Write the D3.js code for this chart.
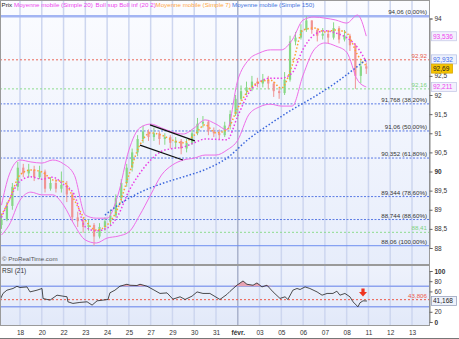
<!DOCTYPE html>
<html>
<head>
<meta charset="utf-8">
<script src="https://cdn.jsdelivr.net/npm/d3@7"></script>
<style>
body { margin: 0; background: #fff; }
svg text { font-family: "Liberation Sans", Arial, sans-serif; }
</style>
</head>
<body>
<script>
// x axis: one grid line per labelled session
var dayLabels = ["18","20","22","23","24","25","27","29","30","31","févr.","03","05","06","07","08","11","12","13"];
var monthIndex = 10;

// candles, every quarter session
var candleT = d3.range(68).map(function(k) { return -0.85 + k * 0.25; });
var priceOpen0 = 88.6;
var priceClose = [88.75,89.1,89.6,90.1,89.95,90.05,89.85,90.0,89.55,89.7,89.55,89.65,89.4,88.8,88.7,88.55,88.6,88.3,88.55,88.7,
  88.85,89.3,89.7,90.1,90.5,90.85,91.05,90.9,91.0,90.85,90.9,90.75,90.8,90.6,90.75,91.0,91.25,91.3,91.05,91.0,
  90.95,91.2,91.5,91.9,92.1,92.2,92.35,92.3,92.4,92.3,92.1,92.05,92.4,93.4,93.5,93.7,93.95,93.7,93.55,93.6,
  93.5,93.75,93.45,93.55,93.3,92.5,92.75,92.69];
var priceHigh = [88.9,89.2,89.7,90.25,90.2,90.2,90.15,90.15,90.05,89.85,89.8,90.0,89.75,89.45,88.95,88.8,88.75,88.65,88.65,88.8,
  89.0,89.4,89.8,90.2,90.6,90.95,91.2,91.1,91.15,91.05,91.0,90.95,90.9,90.85,90.85,91.1,91.4,91.45,91.35,91.15,
  91.1,91.3,91.6,92.0,92.25,92.35,92.5,92.45,92.55,92.5,92.35,92.2,92.6,93.55,93.65,93.85,94.06,93.95,93.75,93.75,
  93.7,93.9,93.8,93.7,93.6,93.35,92.9,92.85];
var priceLow = [88.5,88.7,89.0,89.5,89.85,89.85,89.75,89.8,89.45,89.5,89.45,89.45,89.2,88.7,88.55,88.4,88.45,88.06,88.25,88.45,
  88.6,88.8,89.2,89.6,90.0,90.4,90.75,90.8,90.8,90.7,90.7,90.6,90.6,90.45,90.5,90.7,90.95,91.15,90.95,90.9,
  90.85,90.9,91.1,91.45,91.85,92.0,92.1,92.2,92.2,92.15,91.95,91.9,92.0,92.35,93.3,93.45,93.65,93.6,93.4,93.45,
  93.35,93.45,93.35,93.4,93.15,92.16,92.3,92.55];

// indicators, every half session
var indT = [-0.85,-0.5,0,0.5,1,1.5,2,2.5,3,3.5,4,4.5,5,5.5,6,6.5,7,7.5,8,8.5,9,9.5,10,10.5,11,11.5,12,12.5,13,13.5,14,14.5,15,15.5,15.9];
var bollSup = [89.12,89.91,90.30,90.25,90.22,90.30,90.20,89.9,88.86,88.78,88.78,89.39,90.56,91.14,91.24,91.14,91.03,90.98,91.14,91.35,
  91.24,91.09,92.39,92.92,93.10,93.18,93.18,93.44,93.96,94.04,94.01,93.96,93.88,94.09,93.54];
var bollInf = [88.34,88.60,89.25,89.46,89.39,89.39,89.12,88.60,88.21,88.13,88.26,88.31,88.42,88.86,89.39,89.91,90.17,90.30,90.35,90.43,
  90.43,90.56,90.82,91.48,91.69,91.76,91.71,91.71,92.52,93.18,93.36,93.28,93.12,92.39,92.21];
var ma20 = [88.80,89.25,89.75,89.86,89.80,89.85,89.66,89.39,88.55,88.45,88.52,88.85,89.49,89.95,90.30,90.53,90.60,90.64,90.75,90.85,
  90.84,90.83,91.45,92.05,92.34,92.44,92.44,92.58,93.20,93.57,93.68,93.62,93.50,93.24,92.87];
var ma7 = [88.86,89.25,89.91,90.04,89.99,89.78,89.73,89.25,88.73,88.47,88.60,89.05,89.91,90.69,91.01,90.95,90.82,90.75,90.95,91.22,
  91.01,91.09,91.66,92.13,92.34,92.39,92.18,92.78,93.70,93.75,93.65,93.70,93.62,93.05,92.76];
var ma150T = [3.9,4.5,5.5,6.5,7.5,8.5,9.5,10.5,11.5,12.5,13.5,14.5,15.5,15.9];
var ma150 = [88.86,89.12,89.45,89.68,89.86,90.05,90.35,90.85,91.25,91.62,91.95,92.32,92.75,92.93];

// drawn objects
var fibLevels = [94.06, 91.768, 91.06, 90.352, 89.344, 88.744, 88.06];
var fibPct = ["0,00%","38,20%","50,00%","61,80%","78,60%","88,60%","100,00%"];
var redLevel = 92.92;
var greenLevels = [92.16, 88.41];
var channelTop = [[5.97, 91.22], [8.03, 90.80]];
var channelBottom = [[5.51, 90.69], [7.48, 90.30]];
var lastBollSup = 93.536, lastMa150 = 92.932, lastClose = 92.69, lastBollInf = 92.211;
var priceTicks = [88,88.5,89,89.5,90,90.5,91,91.5,92,92.5,93,93.5,94];

// RSI (21)
var rsiT = [-0.92,-0.78,-0.6,-0.32,-0.14,0,0.32,0.46,0.78,1.01,1.06,1.38,1.7,1.97,2.16,2.2,2.43,2.75,3.08,3.31,
  3.54,3.81,4.04,4.13,4.36,4.59,4.91,5.05,5.37,5.51,5.83,6.11,6.43,6.75,7.02,7.35,7.58,7.9,8.13,8.4,
  8.72,9.18,9.5,9.64,9.96,10.24,10.42,10.7,10.88,11.11,11.34,11.62,11.94,12.17,12.3,12.53,12.72,12.86,13.09,13.31,
  13.64,13.87,14.1,14.37,14.55,14.69,14.92,15.15,15.29,15.52,15.61,15.75,15.93];
var rsiV = [42.9,56,62.4,65.7,70,67.6,68.8,59,62.4,65.7,46,42.9,52.6,50.7,49.4,39.6,36.4,38.4,39.6,33.1,
  41.5,42.9,44.2,57.2,62.4,70.2,74,72.1,71.5,74,70.2,63.7,56,57.1,44.8,49.4,44.2,50.7,59,56,
  56,44.2,54,60,72.1,80.5,74,72.1,76.6,68.8,72.1,59,46.2,49.4,44.2,62.4,65.7,63.7,68.8,65.7,
  59,52.6,56,56,60.4,52.6,56,49.4,39.6,29.8,37.6,41.5,41.168];
var rsiBands = [70, 30];
var rsiLevel = 43.806;
var rsiArrow = [15.75, 58];
var rsiTicks = [0,20,40,60,80,100];

function fr(v) { return String(v).replace(".", ","); }

var svg = d3.select("body").append("svg").attr("width", 459).attr("height", 339);
var defs = svg.append("defs");
var gm = defs.append("linearGradient").attr("id", "bgMain").attr("x1", 0).attr("y1", 0).attr("x2", 0).attr("y2", 1);
gm.append("stop").attr("offset", "0%").attr("stop-color", "#fbfcff");
gm.append("stop").attr("offset", "100%").attr("stop-color", "#e7edfb");
var gr = defs.append("linearGradient").attr("id", "bgRsi").attr("x1", 0).attr("y1", 0).attr("x2", 0).attr("y2", 1);
gr.append("stop").attr("offset", "0%").attr("stop-color", "#eef2fc");
gr.append("stop").attr("offset", "100%").attr("stop-color", "#e2e9f9");
defs.append("clipPath").attr("id", "clipMain").append("rect").attr("x", 1).attr("y", 1).attr("width", 428).attr("height", 263);
defs.append("clipPath").attr("id", "clipRsi").append("rect").attr("x", 1).attr("y", 266).attr("width", 428).attr("height", 59);

var x = d3.scaleLinear().domain([0, 18]).range([20, 412]);
var y = d3.scaleLinear().domain([88, 94]).range([248, 18.5]);
var yr = d3.scaleLinear().domain([0, 100]).range([322, 271]);

// panels
svg.append("rect").attr("x", 0.5).attr("y", 0.5).attr("width", 429).attr("height", 264)
  .attr("fill", "url(#bgMain)").attr("stroke", "#9a9a9a");
svg.append("rect").attr("x", 0.5).attr("y", 265.5).attr("width", 429).attr("height", 60)
  .attr("fill", "url(#bgRsi)").attr("stroke", "#9a9a9a");

// vertical grid
d3.range(dayLabels.length).forEach(function(i) {
  [[1, 264], [266, 325]].forEach(function(r) {
    svg.append("line").attr("x1", x(i)).attr("x2", x(i)).attr("y1", r[0]).attr("y2", r[1])
      .attr("stroke", i === monthIndex ? "#a9b2cc" : "#cdd6ef").attr("stroke-width", 1.5);
  });
});

var main = svg.append("g").attr("clip-path", "url(#clipMain)");

// horizontal levels
fibLevels.forEach(function(v, i) {
  var solid = (i === 0 || i === fibLevels.length - 1);
  main.append("line").attr("x1", 0).attr("x2", 429).attr("y1", y(v)).attr("y2", y(v))
    .attr("stroke", i === 0 ? "#a3b5f3" : (solid ? "#6e8ef0" : "#5a7ae4"))
    .attr("stroke-width", i === 0 ? 2.5 : 1)
    .attr("stroke-dasharray", solid ? null : "2,1.5");
});
main.append("line").attr("x1", 0).attr("x2", 429).attr("y1", y(redLevel)).attr("y2", y(redLevel))
  .attr("stroke", "#ea6a5a").attr("stroke-dasharray", "2,2");
greenLevels.forEach(function(v) {
  main.append("line").attr("x1", 0).attr("x2", 429).attr("y1", y(v)).attr("y2", y(v))
    .attr("stroke", "#8edc8e").attr("stroke-dasharray", "2,2");
});

// candles
var candles = candleT.map(function(t, k) {
  return {t: t, o: k ? priceClose[k - 1] : priceOpen0, h: priceHigh[k], l: priceLow[k], c: priceClose[k]};
});
function candleColor(d) { return d.c >= d.o ? "#86d886" : "#f09494"; }
main.selectAll(".wick").data(candles).enter().append("line")
  .attr("x1", function(d) { return x(d.t); }).attr("x2", function(d) { return x(d.t); })
  .attr("y1", function(d) { return y(d.h); }).attr("y2", function(d) { return y(d.l); })
  .attr("stroke", candleColor);
main.selectAll(".body").data(candles).enter().append("rect")
  .attr("x", function(d) { return x(d.t) - 1.1; }).attr("width", 2.2)
  .attr("y", function(d) { return y(Math.max(d.o, d.c)); })
  .attr("height", function(d) { return Math.max(1, Math.abs(y(d.o) - y(d.c))); })
  .attr("fill", candleColor);

// indicator lines
function curve(ts, vs, sc) {
  return d3.line().x(function(d) { return x(d[0]); }).y(function(d) { return sc(d[1]); })
    .curve(d3.curveMonotoneX)(ts.map(function(t, i) { return [t, vs[i]]; }));
}
main.append("path").attr("d", curve(indT, bollSup, y)).attr("fill", "none").attr("stroke", "#ee6ee8").attr("stroke-width", 1);
main.append("path").attr("d", curve(indT, bollInf, y)).attr("fill", "none").attr("stroke", "#ee6ee8").attr("stroke-width", 1);
main.append("path").attr("d", curve(indT, ma20, y)).attr("fill", "none").attr("stroke", "#ea3ee6")
  .attr("stroke-width", 1.5).attr("stroke-dasharray", "1.5,2");
main.append("path").attr("d", curve(indT, ma7, y)).attr("fill", "none").attr("stroke", "#ffa030")
  .attr("stroke-width", 1.5).attr("stroke-dasharray", "1.5,2");
main.append("path").attr("d", curve(ma150T, ma150, y)).attr("fill", "none").attr("stroke", "#3a66dc")
  .attr("stroke-width", 1.5).attr("stroke-dasharray", "1.5,2");

// channel
[channelTop, channelBottom].forEach(function(seg) {
  main.append("line").attr("x1", x(seg[0][0])).attr("y1", y(seg[0][1]))
    .attr("x2", x(seg[1][0])).attr("y2", y(seg[1][1]))
    .attr("stroke", "#111").attr("stroke-width", 1.2);
});

// level labels
fibLevels.forEach(function(v, i) {
  svg.append("text").attr("x", 427).attr("y", y(v) - 2).attr("text-anchor", "end")
    .attr("font-size", 6.2).attr("fill", "#333").text(fr(v) + " (" + fibPct[i] + ")");
});
svg.append("text").attr("x", 427).attr("y", y(redLevel) - 2).attr("text-anchor", "end")
  .attr("font-size", 6.2).attr("fill", "#e8594a").text(fr(redLevel));
greenLevels.forEach(function(v) {
  svg.append("text").attr("x", 427).attr("y", y(v) - 2).attr("text-anchor", "end")
    .attr("font-size", 6.2).attr("fill", "#7cd27c").text(fr(v));
});

// legend
var legend = [["Prix", "#222", 1.5], ["Moyenne mobile (Simple 20)", "#ee44ee", 14],
  ["Boll sup Boll inf (20 2)", "#ee44ee", 95.5], ["Moyenne mobile (Simple 7)", "#ffa640", 155.5],
  ["Moyenne mobile (Simple 150)", "#4272dc", 232]];
legend.forEach(function(l) {
  svg.append("text").attr("x", l[2]).attr("y", 7).attr("font-size", 6.2).attr("fill", l[1]).text(l[0]);
});
svg.append("text").attr("x", 2).attr("y", 261).attr("font-size", 6.2).attr("fill", "#555").text("© ProRealTime.com");

// value boxes hide the axis ticks under them
var priceBoxes = [lastBollSup, lastMa150, lastClose, lastBollInf];
function hidden(v, boxes, sc) {
  return boxes.some(function(b) { return Math.abs(sc(b) - sc(v)) < 7; });
}

// price axis
var ya = svg.append("g").attr("transform", "translate(429.5,0)")
  .call(d3.axisRight(y).tickValues(priceTicks.filter(function(v) { return !hidden(v, priceBoxes, y); }))
    .tickSize(3).tickPadding(2).tickFormat(fr));
ya.select(".domain").attr("stroke", "#888");
ya.selectAll(".tick line").attr("stroke", "#666");
ya.selectAll(".tick text").attr("font-size", 6.5).attr("fill", "#333")
  .attr("font-weight", function(d) { return d === 90 ? "bold" : null; })
  .attr("font-family", "Liberation Sans, Arial, sans-serif");

function valueBox(v, yy, col, bg, border, w) {
  svg.append("rect").attr("x", 431.5).attr("y", yy - 4.5).attr("width", w).attr("height", 9)
    .attr("fill", bg).attr("stroke", border).attr("stroke-width", 0.8);
  svg.append("text").attr("x", 433).attr("y", yy + 2.3).attr("font-size", 6.5).attr("fill", col).text(fr(v));
}
valueBox(lastBollSup, y(lastBollSup), "#ee44ee", "#f3f1fd", "#c7cbe8", 25);
valueBox(lastMa150, y(lastMa150), "#3f6ee6", "#eef2fd", "#b9c4e8", 25);
valueBox(lastClose, y(lastClose), "#222", "#f6c400", "#d9a800", 21);
valueBox(lastBollInf, y(lastBollInf), "#ee44ee", "#f3f1fd", "#c7cbe8", 25);

// RSI panel
var rsiG = svg.append("g").attr("clip-path", "url(#clipRsi)");
rsiBands.forEach(function(v) {
  rsiG.append("line").attr("x1", 0).attr("x2", 429).attr("y1", yr(v)).attr("y2", yr(v))
    .attr("stroke", "#8ea3ef").attr("stroke-width", 1.5);
});
rsiG.append("line").attr("x1", 0).attr("x2", 429).attr("y1", yr(rsiLevel)).attr("y2", yr(rsiLevel))
  .attr("stroke", "#ee5a48").attr("stroke-dasharray", "2,2");
var rsiPts = rsiT.map(function(t, i) { return [t, rsiV[i]]; });
rsiG.append("path").datum(rsiPts)
  .attr("d", d3.area().x(function(d) { return x(d[0]); }).y0(yr(70))
    .y1(function(d) { return yr(Math.max(70, d[1])); }))
  .attr("fill", "#e7a2b2");
rsiG.append("path").datum(rsiPts)
  .attr("d", d3.line().x(function(d) { return x(d[0]); }).y(function(d) { return yr(d[1]); }))
  .attr("fill", "none").attr("stroke", "#222").attr("stroke-width", 0.8);
svg.append("path").attr("transform", "translate(" + x(rsiArrow[0]) + "," + yr(rsiArrow[1]) + ")")
  .attr("d", "M-1.6,-4 h3.2 v3.5 h2.4 l-4,4.5 l-4,-4.5 h2.4 z").attr("fill", "#ee3320");
svg.append("text").attr("x", 2).attr("y", 273).attr("font-size", 6.5).attr("fill", "#333").text("RSI (21)");
svg.append("text").attr("x", 427).attr("y", yr(rsiLevel) - 1.5).attr("text-anchor", "end")
  .attr("font-size", 6.2).attr("fill", "#ee5a48").text(fr(rsiLevel));

var lastRsi = rsiV[rsiV.length - 1];
var ra = svg.append("g").attr("transform", "translate(429.5,0)")
  .call(d3.axisRight(yr).tickValues(rsiTicks.filter(function(v) { return !hidden(v, [lastRsi], yr); }))
    .tickSize(3).tickPadding(2));
ra.select(".domain").attr("stroke", "#888");
ra.selectAll(".tick line").attr("stroke", "#666");
ra.selectAll(".tick text").attr("font-size", 6.5).attr("fill", "#333")
  .attr("font-weight", function(d) { return (d === 0 || d === 100) ? "bold" : null; })
  .attr("font-family", "Liberation Sans, Arial, sans-serif");
valueBox(lastRsi, yr(lastRsi), "#222", "#eef2fb", "#9aa3bd", 25);

// time axis
var xa = svg.append("g").attr("transform", "translate(0,326)")
  .call(d3.axisBottom(x).tickValues(d3.range(dayLabels.length)).tickSize(0).tickPadding(4)
    .tickFormat(function(i) { return dayLabels[i]; }));
xa.select(".domain").remove();
xa.selectAll(".tick text").attr("font-size", 6.5).attr("fill", "#333")
  .attr("font-weight", function(i) { return i === monthIndex ? "bold" : null; })
  .attr("font-family", "Liberation Sans, Arial, sans-serif");
svg.append("line").attr("x1", 0).attr("x2", 459).attr("y1", 338.5).attr("y2", 338.5).attr("stroke", "#777");
</script>
</body>
</html>
